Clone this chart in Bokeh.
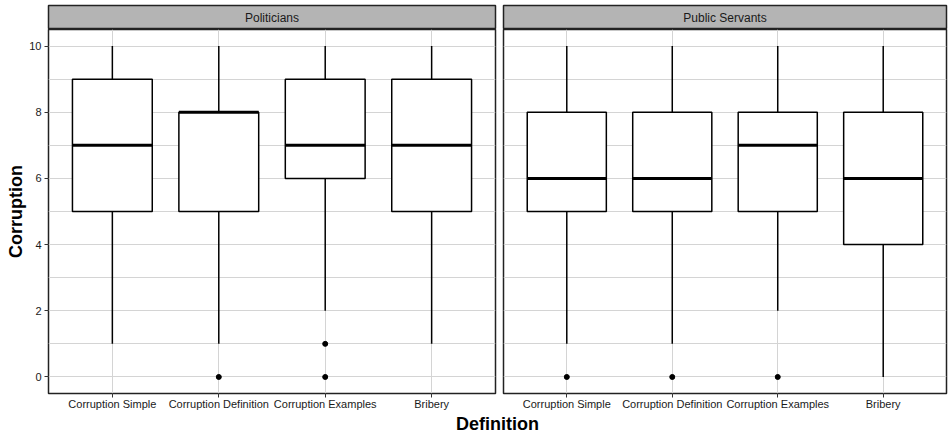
from bokeh.plotting import figure
from bokeh.layouts import column, row
from bokeh.models import Range1d, FactorRange, FixedTicker, ColumnDataSource
from bokeh.transform import dodge
from bokeh.embed import file_html
from bokeh.resources import INLINE
from bokeh.core.properties import value

# ---------------- data ----------------
categories = ["Corruption Simple", "Corruption Definition", "Corruption Examples", "Bribery"]
panels = ["Politicians", "Public Servants"]

pol_low = [1, 1, 2, 1]
pol_q1 = [5, 5, 6, 5]
pol_med = [7, 8, 7, 7]
pol_q3 = [9, 8, 9, 9]
pol_high = [10, 10, 10, 10]
pol_out_cat = ["Corruption Definition", "Corruption Examples", "Corruption Examples"]
pol_out_val = [0, 0, 1]

ps_low = [1, 1, 2, 0]
ps_q1 = [5, 5, 5, 4]
ps_med = [6, 6, 7, 6]
ps_q3 = [8, 8, 8, 8]
ps_high = [10, 10, 10, 10]
ps_out_cat = ["Corruption Simple", "Corruption Definition", "Corruption Examples"]
ps_out_val = [0, 0, 0]

y_ticks = [0, 2, 4, 6, 8, 10]
y_minor = [1, 3, 5, 7, 9]
x_title = "Definition"
y_title = "Corruption"

FONT = "Liberation Sans"
GRID = "#d4d4d4"
BORDER = "#222222"
STRIP = "#b4b4b4"

y_range = Range1d(-0.5, 10.5)


def make_strip(label, width, left, right):
    s = figure(width=width, height=29, x_range=Range1d(0, 1), y_range=Range1d(0, 1),
               x_axis_location=None, y_axis_location=None,
               min_border_left=left, min_border_right=right,
               min_border_top=5, min_border_bottom=0,
               toolbar_location=None, output_backend="svg")
    s.grid.visible = False
    s.background_fill_color = STRIP
    s.border_fill_color = "white"
    s.outline_line_color = BORDER
    s.outline_line_width = 1.5
    s.text(x=[0.5], y=[0.5], text=[label], text_align="center", text_baseline="middle",
           text_font=value(FONT), text_font_size="12px", text_color="#1a1a1a")
    return s


def make_panel(width, left, right, low, q1, med, q3, high, out_cat, out_val, show_y):
    p = figure(width=width, height=384,
               x_range=FactorRange(factors=categories, range_padding=0.05),
               y_range=y_range,
               y_axis_location="left" if show_y else None,
               min_border_left=left, min_border_right=right,
               min_border_top=0, min_border_bottom=20,
               toolbar_location=None, output_backend="svg")
    p.background_fill_color = "white"
    p.border_fill_color = "white"
    p.outline_line_color = BORDER
    p.outline_line_width = 1.5

    src = ColumnDataSource(dict(cat=categories, low=low, q1=q1, med=med, q3=q3, high=high))
    p.segment(x0="cat", x1="cat", y0="q3", y1="high", source=src, line_color="black", line_width=1.5)
    p.segment(x0="cat", x1="cat", y0="low", y1="q1", source=src, line_color="black", line_width=1.5)
    p.vbar(x="cat", width=0.75, bottom="q1", top="q3", source=src,
           fill_color="white", line_color="black", line_width=1.5)
    p.segment(x0=dodge("cat", -0.375, range=p.x_range), x1=dodge("cat", 0.375, range=p.x_range),
              y0="med", y1="med", source=src, line_color="black", line_width=3)
    p.scatter(x=out_cat, y=out_val, size=5, color="black")

    p.xgrid.grid_line_color = GRID
    p.xgrid.grid_line_width = 1
    p.ygrid.ticker = FixedTicker(ticks=y_ticks, minor_ticks=y_minor)
    p.ygrid.grid_line_color = GRID
    p.ygrid.grid_line_width = 1
    p.ygrid.minor_grid_line_color = GRID
    p.ygrid.minor_grid_line_width = 1

    p.xaxis.axis_line_color = None
    p.xaxis.major_tick_line_color = "#333333"
    p.xaxis.major_tick_in = 0
    p.xaxis.major_tick_out = 4
    p.xaxis.minor_tick_line_color = None
    p.xaxis.major_label_text_font = FONT
    p.xaxis.major_label_text_font_size = "11px"
    p.xaxis.major_label_text_color = "#1a1a1a"
    p.xaxis.major_label_standoff = 0

    if show_y:
        p.yaxis.ticker = FixedTicker(ticks=y_ticks, minor_ticks=y_minor)
        p.yaxis.axis_line_color = None
        p.yaxis.major_tick_line_color = "#333333"
        p.yaxis.major_tick_in = 0
        p.yaxis.major_tick_out = 4
        p.yaxis.minor_tick_line_color = None
        p.yaxis.major_label_text_font = FONT
        p.yaxis.major_label_text_font_size = "11px"
        p.yaxis.major_label_text_color = "#1a1a1a"
        p.yaxis.major_label_standoff = 3
        p.yaxis.axis_label = y_title
        p.yaxis.axis_label_text_font = FONT
        p.yaxis.axis_label_text_font_size = "18px"
        p.yaxis.axis_label_text_font_style = "bold"
        p.yaxis.axis_label_text_color = "black"
        p.yaxis.axis_label_standoff = 0
    return p


s1 = make_strip(panels[0], 499, 48, 4)
s2 = make_strip(panels[1], 449, 4, 2)
p1 = make_panel(499, 48, 4, pol_low, pol_q1, pol_med, pol_q3, pol_high, pol_out_cat, pol_out_val, True)
p2 = make_panel(449, 4, 2, ps_low, ps_q1, ps_med, ps_q3, ps_high, ps_out_cat, ps_out_val, False)

p3 = figure(width=948, height=21, x_range=Range1d(0, 948), y_range=Range1d(0, 21),
            x_axis_location=None, y_axis_location=None,
            min_border_left=0, min_border_right=0, min_border_top=0, min_border_bottom=0,
            toolbar_location=None, output_backend="svg")
p3.grid.visible = False
p3.outline_line_color = None
p3.text(x=[497], y=[21], text=[x_title], text_align="center", text_baseline="top",
        text_font=value(FONT), text_font_size="18px", text_font_style="bold", text_color="black")

layout = column(row(s1, s2), row(p1, p2), p3)

open("out.html", "w").write(file_html(layout, INLINE))
